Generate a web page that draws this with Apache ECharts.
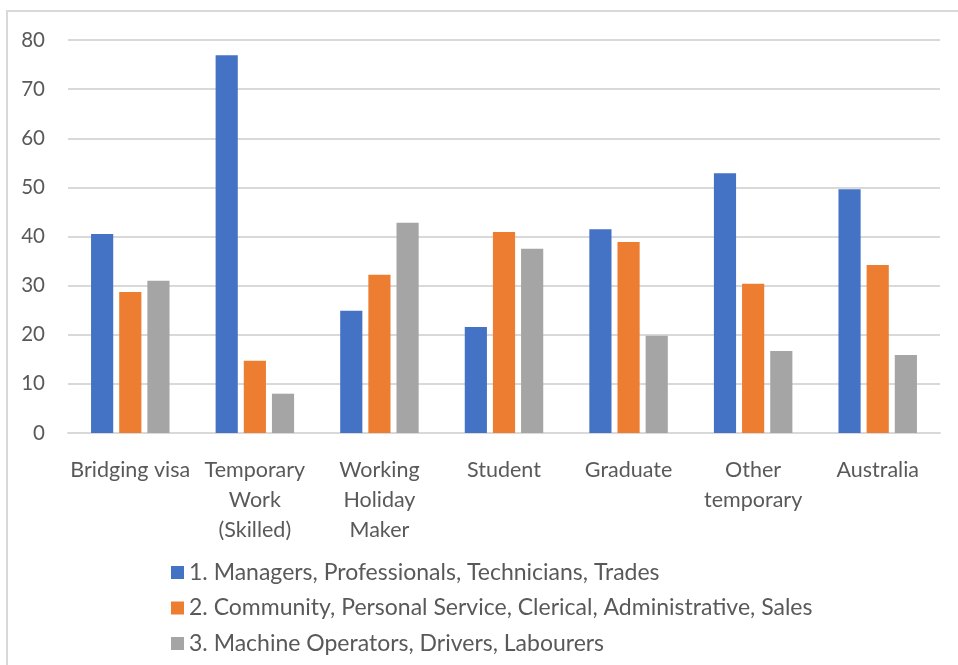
<!DOCTYPE html>
<html>
<head>
<meta charset="utf-8">
<script src="https://cdn.jsdelivr.net/npm/echarts@6/dist/echarts.min.js"></script>
<style>
  html, body { margin: 0; padding: 0; background: #fff; }
  #wrap { position: relative; width: 958px; height: 665px; overflow: hidden; }
  #frame { position: absolute; left: 6px; top: 10px; width: 960px; height: 670px; border: 2px solid #d9d9d9; box-sizing: border-box; }
  #chart { position: absolute; left: 0; top: 0; width: 958px; height: 665px; }
</style>
</head>
<body>
<div id="wrap">
  <div id="frame"></div>
  <div id="chart"></div>
</div>
<script>
const categories = ['Bridging visa', 'Temporary\nWork\n(Skilled)', 'Working\nHoliday\nMaker', 'Student', 'Graduate', 'Other\ntemporary', 'Australia'];
const seriesNames = [
  '1. Managers, Professionals, Technicians, Trades',
  '2. Community, Personal Service, Clerical, Administrative, Sales',
  '3. Machine Operators, Drivers, Labourers'
];
const managers = [40.5, 76.9, 24.9, 21.6, 41.5, 52.9, 49.6];
const community = [28.7, 14.7, 32.2, 40.9, 38.9, 30.4, 34.2];
const machine = [31.0, 8.0, 42.8, 37.5, 19.8, 16.7, 15.9];
const colors = ['#4472c4', '#ed7d31', '#a5a5a5'];

const FONT = 'Lato, "Open Sans", sans-serif';
const chart = echarts.init(document.getElementById('chart'), null, { renderer: 'canvas' });
const mk = (name, data, color) => ({
  name, type: 'bar', data,
  itemStyle: { color },
  barGap: '27%', barCategoryGap: '37%',
  animation: false
});
chart.setOption({
  animation: false,
  grid: { left: 68, right: 18, top: 40, bottom: 232, containLabel: false },
  xAxis: {
    type: 'category', data: categories,
    axisLine: { show: true, lineStyle: { color: '#d9d9d9', width: 2 } },
    axisTick: { show: false },
    axisLabel: { color: '#595959', fontSize: 21.5, fontFamily: FONT, lineHeight: 30, margin: 22, interval: 0 }
  },
  yAxis: {
    type: 'value', min: 0, max: 80, interval: 10,
    axisLine: { show: false }, axisTick: { show: false },
    splitLine: { lineStyle: { color: '#d9d9d9', width: 2 } },
    axisLabel: { color: '#595959', fontSize: 20.5, fontFamily: FONT, margin: 23 }
  },
  legend: {
    orient: 'vertical', left: 166, top: 556,
    itemWidth: 13, itemHeight: 13, itemGap: 12.5,
    icon: 'rect',
    textStyle: { color: '#595959', fontSize: 23, lineHeight: 23, fontFamily: FONT },
    data: seriesNames
  },
  series: [
    mk(seriesNames[0], managers, colors[0]),
    mk(seriesNames[1], community, colors[1]),
    mk(seriesNames[2], machine, colors[2])
  ]
});
</script>
</body>
</html>
